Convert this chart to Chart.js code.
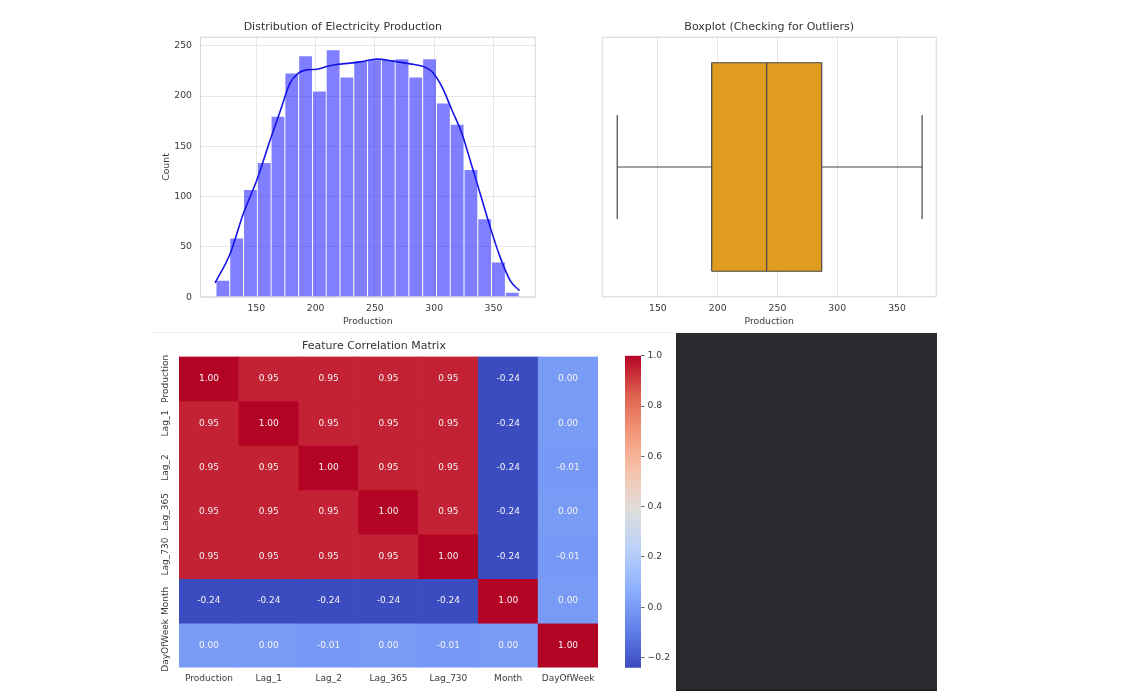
<!DOCTYPE html>
<html>
<head>
<meta charset="utf-8">
<script src="https://cdn.jsdelivr.net/npm/chart.js@4.4.1/dist/chart.umd.min.js"></script>
<style>
  html, body { margin: 0; padding: 0; background: #fff; }
  #page { position: relative; width: 1124px; height: 700px; overflow: hidden; background: #fff; }
  canvas { position: absolute; }
  #rule { position: absolute; left: 150px; top: 332px; width: 522px; height: 1px; background: #efefef; }
  #dark { position: absolute; left: 676px; top: 333px; width: 261px; height: 358px; background: #2a2b2e; border-bottom: 2px solid #1f2023; box-sizing: border-box; }
</style>
</head>
<body>
<div id="page">
  <div id="rule"></div>
  <canvas id="histChart" width="400" height="320" style="left:150px;top:10px"></canvas>
  <canvas id="boxChart" width="400" height="320" style="left:560px;top:10px"></canvas>
  <canvas id="heatChart" width="470" height="368" style="left:150px;top:332px"></canvas>
  <canvas id="cbarChart" width="56" height="368" style="left:620px;top:332px"></canvas>
  <div id="dark"></div>
</div>
<script>
'use strict';

// histogram bins (centres) and counts
const histBins = [121.81, 133.43, 145.05, 156.67, 168.29, 179.91, 191.53, 203.15, 214.77, 226.39, 238.01,
                  249.63, 261.25, 272.87, 284.49, 296.11, 307.73, 319.35, 330.97, 342.59, 354.21, 365.83];
const histCounts = [17, 59, 107, 134, 180, 223, 240, 205, 246, 219, 235,
                    236, 236, 237, 219, 237, 193, 172, 127, 78, 35, 5];
// kde curve
const kdeX = [115.2, 127.8, 139.0, 150.3, 161.6, 170.0, 178.4, 185.4, 192.5, 201.0, 209.4, 217.8, 229.0, 237.5,
              251.6, 265.6, 279.7, 291.0, 298.0, 306.5, 314.9, 323.3, 330.3, 338.8, 347.2, 355.6, 364.1, 371.9];
const kdeY = [14.3, 43, 83, 116, 156, 184.5, 212.8, 222.7, 226, 226.7, 229.4, 231.4, 232.7, 234,
              236.7, 234.7, 232, 229.4, 224.4, 209.4, 186.2, 163, 136.3, 103, 69.8, 39.9, 16.6, 6.6];
const histXTicks = [150, 200, 250, 300, 350];
const histYTicks = [0, 50, 100, 150, 200, 250];

// boxplot: lower whisker, Q1, median, Q3, upper whisker
const boxStats = [116, 195, 241, 287, 371];
const boxXTicks = [150, 200, 250, 300, 350];

// correlation matrix
const corrLabels = ['Production', 'Lag_1', 'Lag_2', 'Lag_365', 'Lag_730', 'Month', 'DayOfWeek'];
const corrValues = [
  [1.00, 0.95, 0.95, 0.95, 0.95, -0.24, 0.00],
  [0.95, 1.00, 0.95, 0.95, 0.95, -0.24, 0.00],
  [0.95, 0.95, 1.00, 0.95, 0.95, -0.24, -0.01],
  [0.95, 0.95, 0.95, 1.00, 0.95, -0.24, 0.00],
  [0.95, 0.95, 0.95, 0.95, 1.00, -0.24, -0.01],
  [-0.24, -0.24, -0.24, -0.24, -0.24, 1.00, 0.00],
  [0.00, 0.00, -0.01, 0.00, -0.01, 0.00, 1.00]
];
const cbarTicks = [-0.2, 0.0, 0.2, 0.4, 0.6, 0.8, 1.0];

Chart.defaults.font.family = "'DejaVu Sans', sans-serif";
Chart.defaults.font.size = 9.3;
Chart.defaults.color = '#3a3a3a';

// coolwarm colormap samples
const COOLWARM = [[59, 76, 192], [98, 130, 234], [141, 176, 254], [184, 208, 249], [221, 221, 221],
                  [245, 196, 173], [244, 154, 123], [222, 96, 77], [180, 4, 38]];
const vmin = Math.min(...corrValues.flat());
const vmax = Math.max(...corrValues.flat());

function coolwarm(v) {
  let t = (v - vmin) / (vmax - vmin);
  t = Math.max(0, Math.min(1, t)) * (COOLWARM.length - 1);
  const i = Math.min(Math.floor(t), COOLWARM.length - 2);
  const f = t - i;
  const a = COOLWARM[i], b = COOLWARM[i + 1];
  return 'rgb(' + [0, 1, 2].map(k => Math.round(a[k] + (b[k] - a[k]) * f)).join(',') + ')';
}

const framePlugin = {
  id: 'frame',
  afterDraw(chart) {
    const a = chart.chartArea, ctx = chart.ctx;
    ctx.save();
    ctx.strokeStyle = '#d6d6d6';
    ctx.lineWidth = 1;
    ctx.strokeRect(a.left + 0.5, a.top + 0.5, a.right - a.left - 1, a.bottom - a.top - 1);
    ctx.restore();
  }
};

function fixedTicks(list) {
  return function(scale) { scale.ticks = list.map(v => ({ value: v })); };
}

const titleFont = { size: 11, weight: 'normal' };

// ---- histogram + kde
new Chart(document.getElementById('histChart').getContext('2d'), {
  type: 'bar',
  data: {
    datasets: [{
      type: 'line',
      data: kdeX.map((x, i) => ({ x: x, y: kdeY[i] })),
      borderColor: '#1414e6',
      borderWidth: 1.6,
      pointRadius: 0,
      cubicInterpolationMode: 'monotone',
      fill: false,
      order: 0
    }, {
      type: 'bar',
      data: histBins.map((x, i) => ({ x: x, y: histCounts[i] })),
      backgroundColor: 'rgba(0,0,255,0.5)',
      borderColor: '#ffffff',
      borderWidth: 0.8,
      barPercentage: 1,
      categoryPercentage: 1,
      order: 1
    }]
  },
  options: {
    responsive: false,
    animation: false,
    layout: { padding: { right: 14.3 } },
    plugins: {
      legend: { display: false },
      tooltip: { enabled: false },
      title: { display: true, text: 'Distribution of Electricity Production', font: titleFont, color: '#333',
               padding: { top: 10.1, bottom: 3.4 } }
    },
    scales: {
      x: {
        type: 'linear', min: 102.5, max: 385.6, offset: false,
        afterBuildTicks: fixedTicks(histXTicks),
        grid: { color: '#e6e6e6', drawTicks: false, offset: false },
        border: { display: false },
        ticks: { padding: 5.4 },
        title: { display: true, text: 'Production', padding: { top: 0, bottom: 2.7 } },
        afterFit: function(s) { s.height = 32.7; }
      },
      y: {
        min: 0, max: 259,
        afterBuildTicks: fixedTicks(histYTicks),
        grid: { color: '#e6e6e6', drawTicks: false },
        border: { display: false },
        ticks: { padding: 8 },
        title: { display: true, text: 'Count', padding: { top: 11.4, bottom: 0 } },
        afterFit: function(s) { s.width = 50; }
      }
    }
  },
  plugins: [framePlugin]
});

// ---- boxplot
const [wLo, q1, med, q3, wHi] = boxStats;
const BOX = 0.4, CAP = 0.2;
function seg(points, extra) {
  return Object.assign({ data: points, showLine: true, pointRadius: 0, borderColor: '#474747',
                         borderWidth: 1.2, fill: false, order: 0 }, extra || {});
}

new Chart(document.getElementById('boxChart').getContext('2d'), {
  type: 'scatter',
  data: {
    datasets: [
      seg([{ x: q1, y: BOX }, { x: q3, y: BOX }],
          { borderWidth: 0, backgroundColor: '#df9c20', fill: { value: -BOX }, order: 1 }),
      seg([{ x: q1, y: -BOX }, { x: q3, y: -BOX }, { x: q3, y: BOX }, { x: q1, y: BOX }, { x: q1, y: -BOX }]),
      seg([{ x: med, y: -BOX }, { x: med, y: BOX }]),
      seg([{ x: wLo, y: 0 }, { x: q1, y: 0 }]),
      seg([{ x: q3, y: 0 }, { x: wHi, y: 0 }]),
      seg([{ x: wLo, y: -CAP }, { x: wLo, y: CAP }]),
      seg([{ x: wHi, y: -CAP }, { x: wHi, y: CAP }])
    ]
  },
  options: {
    responsive: false,
    animation: false,
    layout: { padding: { left: 41.7, right: 23.3 } },
    plugins: {
      legend: { display: false },
      tooltip: { enabled: false },
      title: { display: true, text: 'Boxplot (Checking for Outliers)', font: titleFont, color: '#333',
               padding: { top: 10.1, bottom: 3.4 } }
    },
    scales: {
      x: {
        type: 'linear', min: 103, max: 383.2,
        afterBuildTicks: fixedTicks(boxXTicks),
        grid: { color: '#e6e6e6', drawTicks: false },
        border: { display: false },
        ticks: { padding: 5.4 },
        title: { display: true, text: 'Production', padding: { top: 0, bottom: 2.7 } },
        afterFit: function(s) { s.height = 32.7; }
      },
      y: { type: 'linear', min: -0.5, max: 0.5, display: false }
    }
  },
  plugins: [framePlugin]
});

// ---- correlation heatmap
const cellTextPlugin = {
  id: 'cellText',
  afterDatasetsDraw(chart) {
    const ctx = chart.ctx;
    ctx.save();
    ctx.font = "9px 'DejaVu Sans', sans-serif";
    ctx.fillStyle = '#f4f4f4';
    ctx.textAlign = 'center';
    ctx.textBaseline = 'middle';
    corrValues.forEach(function(row, i) {
      const meta = chart.getDatasetMeta(i);
      row.forEach(function(v, j) {
        const c = meta.data[j].getCenterPoint();
        ctx.fillText(v.toFixed(2), c.x, c.y);
      });
    });
    ctx.restore();
  }
};

const rowLabelPlugin = {
  id: 'rowLabels',
  afterDraw(chart) {
    const ctx = chart.ctx, y = chart.scales.y;
    ctx.save();
    ctx.font = "9px 'DejaVu Sans', sans-serif";
    ctx.fillStyle = '#3a3a3a';
    ctx.textAlign = 'center';
    ctx.textBaseline = 'middle';
    corrLabels.forEach(function(lab, i) {
      ctx.save();
      ctx.translate(16, y.getPixelForValue(i + 0.5));
      ctx.rotate(-Math.PI / 2);
      ctx.fillText(lab, 0, 0);
      ctx.restore();
    });
    ctx.restore();
  }
};

new Chart(document.getElementById('heatChart').getContext('2d'), {
  type: 'bar',
  data: {
    labels: corrLabels,
    datasets: corrValues.map(function(row, i) {
      return {
        label: corrLabels[i],
        data: row.map(() => 1),
        backgroundColor: row.map(coolwarm),
        borderWidth: 0,
        barPercentage: 1,
        categoryPercentage: 1,
        stack: 'm'
      };
    })
  },
  options: {
    responsive: false,
    animation: false,
    layout: { padding: { right: 22 } },
    plugins: {
      legend: { display: false },
      tooltip: { enabled: false },
      title: { display: true, text: 'Feature Correlation Matrix', font: titleFont, color: '#333',
               padding: { top: 7.1, bottom: 4.2 } }
    },
    scales: {
      x: {
        stacked: true,
        grid: { display: false, drawTicks: false },
        border: { display: false },
        ticks: { padding: 6, maxRotation: 0, autoSkip: false, font: { size: 9 } },
        afterFit: function(s) { s.height = 32.4; }
      },
      y: {
        stacked: true, min: 0, max: 7, reverse: true,
        grid: { display: false, drawTicks: false },
        border: { display: false },
        ticks: { display: false },
        afterFit: function(s) { s.width = 29; }
      }
    }
  },
  plugins: [cellTextPlugin, rowLabelPlugin]
});

// ---- colour bar
new Chart(document.getElementById('cbarChart').getContext('2d'), {
  type: 'bar',
  data: {
    labels: [''],
    datasets: [{
      data: [[vmin, vmax]],
      barPercentage: 1,
      categoryPercentage: 1,
      borderWidth: 0,
      backgroundColor: function(context) {
        const chart = context.chart;
        if (!chart.chartArea) return null;
        const y = chart.scales.y;
        const g = chart.ctx.createLinearGradient(0, y.getPixelForValue(vmin), 0, y.getPixelForValue(vmax));
        COOLWARM.forEach(function(c, k) {
          g.addColorStop(k / (COOLWARM.length - 1), 'rgb(' + c.join(',') + ')');
        });
        return g;
      }
    }]
  },
  options: {
    responsive: false,
    animation: false,
    layout: { padding: { left: 5, top: 23.7, bottom: 32.3 } },
    plugins: { legend: { display: false }, tooltip: { enabled: false } },
    scales: {
      x: { display: false },
      y: {
        position: 'right', min: vmin, max: vmax,
        afterBuildTicks: fixedTicks(cbarTicks),
        grid: { drawOnChartArea: false, drawTicks: true, tickLength: 3.5, tickColor: '#444', tickWidth: 0.8 },
        border: { display: false },
        ticks: {
          padding: 3,
          callback: function(v) { return v < 0 ? '\u2212' + Math.abs(v).toFixed(1) : v.toFixed(1); }
        },
        afterFit: function(s) { s.width = 35; }
      }
    }
  }
});
</script>
</body>
</html>
